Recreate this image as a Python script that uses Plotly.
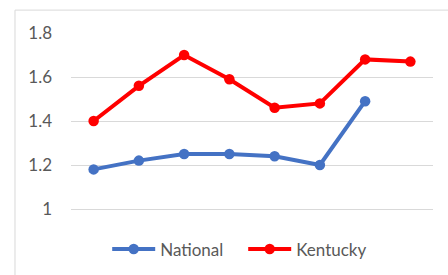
import plotly.graph_objects as go

categories = ["1", "2", "3", "4", "5", "6", "7", "8"]
national = [1.18, 1.22, 1.25, 1.25, 1.24, 1.20, 1.49, None]
kentucky = [1.40, 1.56, 1.70, 1.59, 1.46, 1.48, 1.68, 1.67]
y_ticks = [1, 1.2, 1.4, 1.6, 1.8]
y_tick_labels = ["1", "1.2", "1.4", "1.6", "1.8"]

FONT = "Lato"
TEXT = "#595959"
GRID = "#d9d9d9"

fig = go.Figure()
fig.add_trace(go.Scatter(
    x=categories, y=national, name="National", mode="lines+markers",
    line=dict(color="#4472c4", width=4), marker=dict(size=10.5, color="#4472c4"),
    connectgaps=False,
))
fig.add_trace(go.Scatter(
    x=categories, y=kentucky, name="Kentucky", mode="lines+markers",
    line=dict(color="#ff0000", width=4), marker=dict(size=10.5, color="#ff0000"),
))

fig.update_layout(
    width=448, height=275,
    margin=dict(l=71, r=15, t=33, b=66, autoexpand=False),
    paper_bgcolor="white", plot_bgcolor="white",
    font=dict(family=FONT, color=TEXT, size=17),
    showlegend=True,
    legend=dict(orientation="h", x=0.1, xanchor="left", y=-0.23, yanchor="middle",
                font=dict(size=17, color=TEXT), itemwidth=43, tracegroupgap=0,
                entrywidth=78),
    xaxis=dict(type="category", range=[-0.5, 7.5], showticklabels=False, showgrid=False,
               zeroline=False, showline=True, linecolor=GRID, linewidth=1, ticks="",
               automargin=False),
    yaxis=dict(range=[1, 1.8], tickvals=y_ticks, ticktext=y_tick_labels, showgrid=True,
               gridcolor=GRID, gridwidth=1, zeroline=False, showline=False, ticks="",
               ticklabelstandoff=18, tickfont=dict(size=17, color=TEXT), automargin=False),
    shapes=[
        dict(type="line", xref="paper", yref="paper", x0=-0.1547, x1=-0.1547, y0=1.13, y1=-0.5,
             line=dict(color=GRID, width=1)),
        dict(type="line", xref="paper", yref="paper", x0=-0.1547, x1=1.2, y0=1.13, y1=1.13,
             line=dict(color=GRID, width=1)),
    ],
)

fig.write_html("out.html", config={"displayModeBar": False},
               post_script="document.body.style.margin='0';")
